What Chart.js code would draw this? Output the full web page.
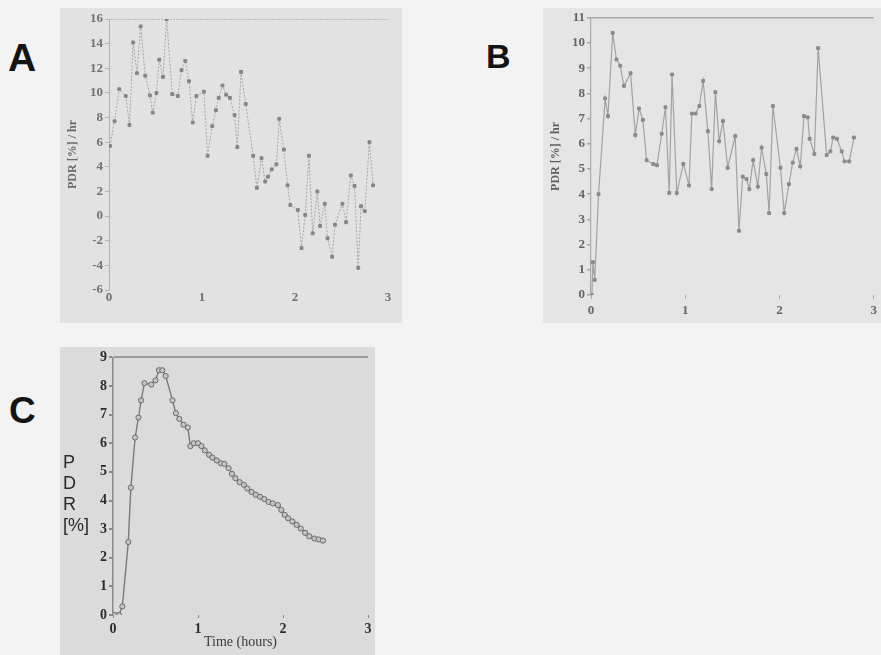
<!DOCTYPE html>
<html>
<head>
<meta charset="utf-8">
<script src="https://cdn.jsdelivr.net/npm/chart.js@4.4.1/dist/chart.umd.min.js"></script>
<style>
    body { margin: 0; width: 881px; height: 655px; background: #f3f3f3; position: relative; overflow: hidden; }
    .panel { position: absolute; }
    .panel canvas { display: block; }
    .letter { position: absolute; font-family: "Liberation Sans", Arial, sans-serif; font-weight: bold; color: #141414; line-height: 1; }
    .stack { position: absolute; font-family: "Liberation Sans", Arial, sans-serif; color: #2a2a2a; font-size: 18px; line-height: 21px; }
</style>
</head>
<body>

<div class="letter" style="left:8px; top:38px; font-size:39px;">A</div>
<div class="letter" style="left:486px; top:39px; font-size:34px;">B</div>
<div class="letter" style="left:9px; top:392px; font-size:37px;">C</div>

<div class="panel" style="left:60px; top:8px; background:#e2e2e2;">
    <canvas id="chartA" width="342" height="315"></canvas>
</div>
<div class="panel" style="left:543px; top:8px; background:#e5e5e5;">
    <canvas id="chartB" width="338" height="315"></canvas>
</div>
<div class="panel" style="left:60px; top:347px; background:#dbdbdb;">
    <canvas id="chartC" width="315" height="308"></canvas>
</div>

<div class="stack" style="left:63px; top:452px;">P<br>D<br>R<br>[%]</div>

<script>
// Panel A - PDR rate (%/hr) over time
const aHours = [0.01, 0.06, 0.11, 0.18, 0.22, 0.26, 0.30, 0.34, 0.39, 0.44, 0.47, 0.51, 0.54, 0.58, 0.62,
    0.68, 0.74, 0.78, 0.82, 0.86, 0.90, 0.94, 1.02, 1.06, 1.11, 1.15, 1.18, 1.22, 1.26, 1.30, 1.35,
    1.38, 1.42, 1.47, 1.55, 1.59, 1.64, 1.68, 1.71, 1.75, 1.80, 1.83, 1.88, 1.92, 1.95, 2.03, 2.07,
    2.11, 2.15, 2.19, 2.24, 2.27, 2.32, 2.35, 2.40, 2.43, 2.51, 2.55, 2.60, 2.64, 2.68, 2.71, 2.75,
    2.80, 2.84];
const aPdr = [5.7, 7.7, 10.3, 9.75, 7.4, 14.1, 11.6, 15.4, 11.4, 9.8, 8.4, 10.0, 12.7, 11.3, 16.0,
    9.9, 9.75, 11.85, 12.6, 10.95, 7.6, 9.75, 10.1, 4.9, 7.3, 8.6, 9.6, 10.6, 9.85, 9.6, 8.2,
    5.6, 11.7, 9.1, 4.9, 2.3, 4.7, 2.8, 3.2, 3.8, 4.2, 7.9, 5.4, 2.5, 0.9, 0.5, -2.6,
    0.1, 4.9, -1.4, 2.0, -0.8, 1.0, -1.8, -3.3, -0.7, 1.0, -0.5, 3.3, 2.45, -4.2, 0.8, 0.4,
    6.0, 2.5];

// Panel B - PDR rate (%/hr) over time
const bHours = [0.01, 0.02, 0.04, 0.08, 0.15, 0.18, 0.23, 0.27, 0.31, 0.35, 0.42, 0.47, 0.51, 0.55,
    0.59, 0.66, 0.70, 0.75, 0.79, 0.83, 0.86, 0.91, 0.98, 1.04, 1.07, 1.11, 1.15, 1.19, 1.24, 1.28,
    1.32, 1.36, 1.40, 1.45, 1.53, 1.57, 1.61, 1.65, 1.68, 1.72, 1.77, 1.81, 1.86, 1.89, 1.93, 2.01,
    2.05, 2.10, 2.14, 2.18, 2.22, 2.26, 2.30, 2.32, 2.37, 2.41, 2.50, 2.54, 2.57, 2.61, 2.66, 2.69,
    2.74, 2.79];
const bPdr = [0, 1.3, 0.6, 4.0, 7.8, 7.1, 10.4, 9.35, 9.1, 8.3, 8.8, 6.35, 7.4, 6.95,
    5.35, 5.2, 5.15, 6.4, 7.45, 4.05, 8.75, 4.05, 5.2, 4.35, 7.2, 7.2, 7.5, 8.5, 6.5, 4.2,
    8.05, 6.1, 6.9, 5.05, 6.3, 2.55, 4.7, 4.6, 4.2, 5.35, 4.3, 5.85, 4.8, 3.25, 7.5, 5.05,
    3.25, 4.4, 5.25, 5.8, 5.1, 7.1, 7.05, 6.2, 5.6, 9.8, 5.55, 5.7, 6.25, 6.2, 5.7, 5.3,
    5.3, 6.25];

// Panel C - PDR (%) over time
const cHours = [0.02, 0.07, 0.11, 0.18, 0.21, 0.26, 0.30, 0.33, 0.37, 0.45, 0.50, 0.54, 0.58, 0.62,
    0.70, 0.74, 0.78, 0.83, 0.88, 0.91, 0.95, 1.00, 1.04, 1.08, 1.13, 1.17, 1.22, 1.27, 1.31, 1.36,
    1.40, 1.44, 1.49, 1.54, 1.58, 1.63, 1.68, 1.73, 1.78, 1.83, 1.88, 1.94, 1.98, 2.02, 2.06, 2.11,
    2.16, 2.21, 2.26, 2.31, 2.37, 2.42, 2.47];
const cPdr = [0, 0, 0.3, 2.55, 4.45, 6.2, 6.9, 7.5, 8.1, 8.05, 8.2, 8.55, 8.55, 8.35,
    7.5, 7.05, 6.85, 6.65, 6.55, 5.9, 6.0, 6.0, 5.9, 5.75, 5.6, 5.5, 5.4, 5.3, 5.28, 5.13,
    4.93, 4.78, 4.64, 4.55, 4.42, 4.3, 4.2, 4.13, 4.05, 3.95, 3.9, 3.84, 3.67, 3.5, 3.38, 3.27,
    3.15, 3.02, 2.87, 2.75, 2.67, 2.64, 2.6];

const xTickValues = [0, 1, 2, 3];
const serif = '"Liberation Serif", "DejaVu Serif", serif';

function toPoints(xs, ys) {
    return xs.map((x, i) => ({ x: x, y: ys[i] }));
}

function makeChart(id, xs, ys, o) {
    const ctx = document.getElementById(id).getContext('2d');
    return new Chart(ctx, {
        type: 'line',
        data: {
            datasets: [{
                data: toPoints(xs, ys),
                borderColor: o.lineColor,
                borderWidth: o.lineWidth,
                borderDash: o.dash || [],
                pointStyle: o.pointStyle,
                pointRadius: o.pointRadius,
                pointBackgroundColor: o.pointFill,
                pointBorderColor: o.pointColor,
                pointBorderWidth: 1,
                tension: 0
            }]
        },
        options: {
            responsive: false,
            animation: false,
            events: [],
            layout: { padding: o.padding },
            plugins: { legend: { display: false }, tooltip: { enabled: false } },
            scales: {
                x: {
                    type: 'linear', min: 0, max: 3,
                    afterBuildTicks: s => { s.ticks = xTickValues.map(v => ({ value: v })); },
                    afterFit: s => { s.height = o.xHeight; },
                    border: { display: false },
                    grid: { drawOnChartArea: false, tickLength: o.xTickLen, tickColor: o.axisColor },
                    ticks: { padding: o.xTickPad, color: o.tickColor, font: { family: serif, size: o.tickSize, weight: 'bold' }, maxRotation: 0 },
                    title: o.xTitle ? { display: true, text: o.xTitle, color: '#3a3a3a', font: { family: serif, size: 14 }, padding: { top: 0, bottom: 4 } } : { display: false }
                },
                y: {
                    min: o.yMin, max: o.yMax,
                    ticks: { stepSize: o.yStep, padding: 2, color: o.tickColor, font: { family: serif, size: o.tickSize, weight: 'bold' } },
                    afterFit: s => { s.width = o.yWidth; },
                    border: { color: o.axisColor, width: o.axisWidth, dash: o.axisDash || [] },
                    grid: {
                        color: c => (c.tick && c.tick.value === o.yMax) ? o.topColor : 'rgba(0,0,0,0)',
                        lineWidth: o.topWidth,
                        tickLength: 4,
                        tickColor: o.axisColor
                    },
                    title: o.yTitle ? { display: true, text: o.yTitle, color: o.titleColor, font: { family: serif, size: 12, weight: 'bold' }, padding: { top: 6, bottom: 0 } } : { display: false }
                }
            }
        }
    });
}

makeChart('chartA', aHours, aPdr, {
    padding: { top: 11, right: 14, bottom: 15, left: 0 },
    yMin: -6, yMax: 16, yStep: 2, yWidth: 49, xHeight: 18, xTickLen: 0, xTickPad: 0,
    yTitle: 'PDR [%] / hr',
    lineColor: '#a6a6a6', lineWidth: 1, dash: [2, 1.5],
    pointStyle: 'rect', pointRadius: 2, pointFill: '#858585', pointColor: '#858585',
    tickColor: '#727272', titleColor: '#6a6a6a', tickSize: 13, axisColor: '#b4b4b4', axisWidth: 1, axisDash: [2, 1],
    topColor: '#bdbdbd', topWidth: 1
});

makeChart('chartB', bHours, bPdr, {
    padding: { top: 7, right: 3, bottom: 0, left: 0 },
    yMin: 0, yMax: 11, yStep: 1, yWidth: 48, xHeight: 28, xTickLen: 4, xTickPad: 4,
    yTitle: 'PDR [%] / hr',
    lineColor: '#a2a2a2', lineWidth: 1.2,
    pointStyle: 'rect', pointRadius: 2, pointFill: '#8a8a8a', pointColor: '#8a8a8a',
    tickColor: '#666666', titleColor: '#5e5e5e', tickSize: 13, axisColor: '#a8a8a8', axisWidth: 1.2,
    topColor: '#aaaaaa', topWidth: 1.5
});

makeChart('chartC', cHours, cPdr, {
    padding: { top: 6, right: 7, bottom: 0, left: 0 },
    yMin: 0, yMax: 9, yStep: 1, yWidth: 53, xHeight: 40, xTickLen: 3, xTickPad: 3,
    xTitle: 'Time (hours)',
    lineColor: '#7a7a7a', lineWidth: 1.4,
    pointStyle: 'circle', pointRadius: 2.6, pointFill: '#c4c4c4', pointColor: '#6a6a6a',
    tickColor: '#2c2c2c', titleColor: '#2c2c2c', tickSize: 14, axisColor: '#8a8a8a', axisWidth: 1.5,
    topColor: '#9a9a9a', topWidth: 2
});
</script>
</body>
</html>
